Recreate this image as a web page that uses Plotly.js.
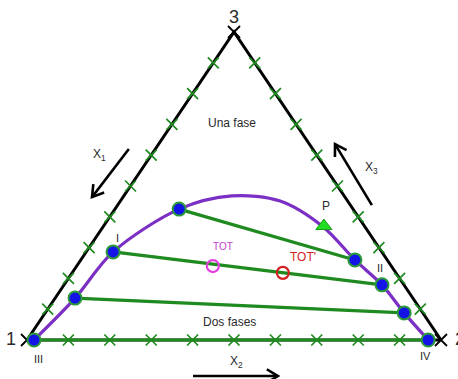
<!DOCTYPE html>
<html>
<head>
<meta charset="utf-8">
<script src="https://cdn.plot.ly/plotly-3.0.1.min.js"></script>
<style>
  html, body { margin: 0; padding: 0; background: #fff; }
  #chart { width: 458px; height: 379px; }
</style>
</head>
<body>
<div id="chart"></div>
<script>
// Binodal curve (composition fractions of component 2 and 3)
const binodalX2 = [0.017, 0.048, 0.065, 0.155, 0.261, 0.386, 0.532, 0.662, 0.768, 0.867, 0.969];
const binodalX3 = [0.000, 0.136, 0.286, 0.425, 0.468, 0.451, 0.367, 0.260, 0.179, 0.088, 0.000];

// Tie-line end points on each branch (left branch / right branch)
const tieLeftX2  = [0.017, 0.048, 0.065, 0.155];
const tieLeftX3  = [0.000, 0.136, 0.286, 0.425];
const tieRightX2 = [0.969, 0.867, 0.768, 0.662];
const tieRightX3 = [0.000, 0.088, 0.179, 0.260];

// Named points
const pointP    = {x2: 0.532, x3: 0.370};
const pointTOT  = {x2: 0.329, x3: 0.240};
const pointTOTp = {x2: 0.509, x3: 0.218};

// Edge ticks
const tickFractions = [0.1, 0.2, 0.3, 0.4, 0.5, 0.6, 0.7, 0.8, 0.9];

// Ternary -> plot coordinates
const cx = (x2, x3) => x2 + 0.5 * x3;
const cy = (x2, x3) => x3;

const GREEN = '#1f8a1f';
const PURPLE = '#7b2fc4';
const TXT = '#2a2a2a';
const FONT = 'Liberation Sans, Arial, sans-serif';

const traces = [];

// Triangle edges
traces.push({
  x: [cx(0,0), cx(0,1), cx(1,0), cx(0,0)],
  y: [cy(0,0), cy(0,1), cy(1,0), cy(0,0)],
  mode: 'lines', line: {color: '#000', width: 3}, hoverinfo: 'skip'
});

// Ticks on the two slanted edges
const tkX = [], tkY = [];
tickFractions.forEach(f => {
  tkX.push(cx(0, f)); tkY.push(cy(0, f));          // left edge (x2 = 0)
  tkX.push(cx(1 - f, f)); tkY.push(cy(1 - f, f));  // right edge (x1 = 0)
});
traces.push({
  x: tkX, y: tkY, mode: 'markers',
  marker: {symbol: 'x-thin', size: 11, color: GREEN, line: {color: GREEN, width: 1.7}}, hoverinfo: 'skip'
});

// Binodal curve
traces.push({
  x: binodalX2.map((v, i) => cx(v, binodalX3[i])),
  y: binodalX2.map((v, i) => cy(v, binodalX3[i])),
  mode: 'lines', line: {color: PURPLE, width: 3.2, shape: 'spline', smoothing: 0.9}, hoverinfo: 'skip'
});

// Tie lines
tieLeftX2.forEach((v, i) => {
  traces.push({
    x: [cx(v, tieLeftX3[i]), cx(tieRightX2[i], tieRightX3[i])],
    y: [cy(v, tieLeftX3[i]), cy(tieRightX2[i], tieRightX3[i])],
    mode: 'lines', line: {color: GREEN, width: 3.2}, hoverinfo: 'skip'
  });
});

// Bottom-edge ticks (on top of the base tie line)
traces.push({
  x: tickFractions.map(f => cx(f, 0)), y: tickFractions.map(() => 0), mode: 'markers',
  marker: {symbol: 'x-thin', size: 11, color: GREEN, line: {color: GREEN, width: 1.7}}, hoverinfo: 'skip'
});

// Vertex markers
traces.push({
  x: [cx(0,0), cx(1,0), cx(0,1)], y: [0, 0, 1], mode: 'markers',
  marker: {symbol: 'x-thin', size: 12, color: '#000', line: {color: '#000', width: 1.8}}, hoverinfo: 'skip'
});

// Tie-line end points
const endX2 = tieLeftX2.concat(tieRightX2), endX3 = tieLeftX3.concat(tieRightX3);
traces.push({
  x: endX2.map((v, i) => cx(v, endX3[i])), y: endX2.map((v, i) => cy(v, endX3[i])),
  mode: 'markers',
  marker: {symbol: 'circle', size: 13, color: '#1414e6', line: {color: '#2a9a3a', width: 2}}, hoverinfo: 'skip'
});

// P, TOT, TOT'
traces.push({
  x: [cx(pointP.x2, pointP.x3)], y: [cy(pointP.x2, pointP.x3)], mode: 'markers',
  marker: {symbol: 'triangle-up', size: 14, color: '#22dd22', line: {color: '#1a9a1a', width: 1}}, hoverinfo: 'skip'
});
traces.push({
  x: [cx(pointTOT.x2, pointTOT.x3)], y: [cy(pointTOT.x2, pointTOT.x3)], mode: 'markers',
  marker: {symbol: 'circle-open', size: 12, color: '#e23ee2', line: {color: '#e23ee2', width: 2.2}}, hoverinfo: 'skip'
});
traces.push({
  x: [cx(pointTOTp.x2, pointTOTp.x3)], y: [cy(pointTOTp.x2, pointTOTp.x3)], mode: 'markers',
  marker: {symbol: 'circle-open', size: 12, color: '#d42020', line: {color: '#d42020', width: 2.2}}, hoverinfo: 'skip'
});

// Axis geometry (pixels per plot unit)
const W = 458, H = 379;
const xr = [-0.06522, 1.04106], yr = [-0.12662, 1.10390];
const sx = W / (xr[1] - xr[0]), sy = H / (yr[1] - yr[0]);

// Direction arrows drawn as a shaft with a chevron head
function arrow(tail, head) {
  const dx = (head[0] - tail[0]) * sx, dy = (head[1] - tail[1]) * sy;
  const len = Math.hypot(dx, dy), ux = dx / len, uy = dy / len;
  const hl = 13, ang = 0.55;
  const wing = s => {
    const c = Math.cos(s * ang), n = Math.sin(s * ang);
    const rx = -(ux * c - uy * n), ry = -(ux * n + uy * c);
    return [head[0] + rx * hl / sx, head[1] + ry * hl / sy];
  };
  const a = wing(1), b = wing(-1);
  traces.push({
    x: [tail[0], head[0], null, a[0], head[0], b[0]],
    y: [tail[1], head[1], null, a[1], head[1], b[1]],
    mode: 'lines', line: {color: '#000', width: 2.6}, hoverinfo: 'skip'
  });
}
arrow([0.246, 0.620], [0.157, 0.464]);
arrow([0.833, 0.438], [0.744, 0.636]);
arrow([0.401, -0.117], [0.606, -0.117]);

const txt = (x, y, text, size, color, extra) => Object.assign({
  x, y, text, xref: 'x', yref: 'y', showarrow: false,
  font: {family: FONT, size, color: color || TXT}
}, extra || {});

const annotations = [
  txt(0, 0, '1', 18, TXT, {xshift: -16, yshift: 1}),
  txt(1, 0, '2', 18, TXT, {xshift: 19, yshift: 1}),
  txt(0.5, 1, '3', 18, TXT, {yshift: 15}),
  txt(cx(tieLeftX2[0], 0), 0, 'III', 11, TXT, {xshift: 4, yshift: -19}),
  txt(cx(tieRightX2[0], 0), 0, 'IV', 11, TXT, {xshift: -3, yshift: -16}),
  txt(cx(tieLeftX2[2], tieLeftX3[2]), cy(tieLeftX2[2], tieLeftX3[2]), 'I', 11, TXT, {xshift: 4, yshift: 14}),
  txt(cx(tieRightX2[2], tieRightX3[2]), cy(tieRightX2[2], tieRightX3[2]), 'II', 11, TXT, {xshift: -2, yshift: 17}),
  txt(cx(pointP.x2, pointP.x3), cy(pointP.x2, pointP.x3), 'P', 12, TXT, {xshift: 2, yshift: 20}),
  txt(cx(pointTOT.x2, pointTOT.x3), cy(pointTOT.x2, pointTOT.x3), 'TOT', 10, '#c040c8', {xshift: 10, yshift: 20}),
  txt(cx(pointTOTp.x2, pointTOTp.x3), cy(pointTOTp.x2, pointTOTp.x3), "TOT'", 12, '#d42020', {xshift: 20, yshift: 16}),
  txt(0.495, 0.705, 'Una fase', 12),
  txt(0.488, 0.058, 'Dos fases', 12),
  txt(0.176, 0.601, 'X<sub>1</sub>', 12),
  txt(0.833, 0.558, 'X<sub>3</sub>', 12),
  txt(0.507, -0.071, 'X<sub>2</sub>', 12)
];

const layout = {
  width: W, height: H,
  margin: {l: 0, r: 0, t: 0, b: 0},
  paper_bgcolor: '#fff', plot_bgcolor: '#fff',
  showlegend: false,
  xaxis: {range: xr, visible: false, fixedrange: true},
  yaxis: {range: yr, visible: false, fixedrange: true},
  annotations
};

Plotly.newPlot('chart', traces, layout, {displayModeBar: false, staticPlot: true});
</script>
</body>
</html>
